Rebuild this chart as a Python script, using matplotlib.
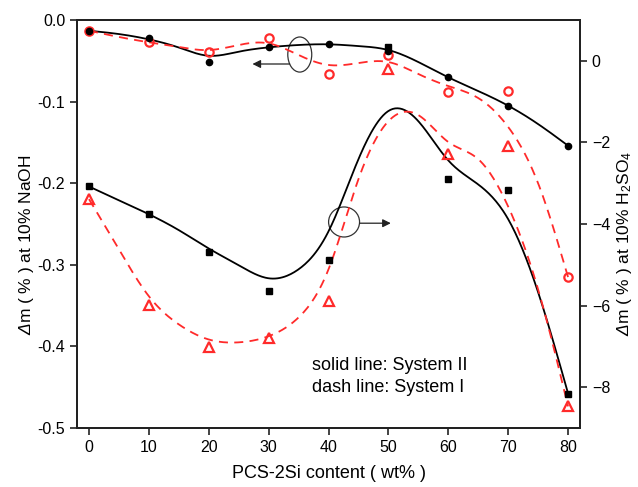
import numpy as np
import matplotlib
matplotlib.use("Agg")
import matplotlib.pyplot as plt
from matplotlib.patches import Ellipse

plt.rcParams['font.family'] = ['Liberation Sans', 'DejaVu Sans']
plt.rcParams['mathtext.fontset'] = 'custom'
plt.rcParams['mathtext.rm'] = 'Liberation Sans'
plt.rcParams['mathtext.it'] = 'Liberation Sans:italic'
plt.rcParams['mathtext.sf'] = 'Liberation Sans:italic'

# ---- data ----
content = [0, 10, 20, 30, 40, 50, 60, 70, 80]

# NaOH (left axis)
naoh_sys2 = [-0.013, -0.022, -0.051, -0.033, -0.029, -0.038, -0.070, -0.105, -0.154]
naoh_sys1 = [-0.013, -0.027, -0.039, -0.022, -0.066, -0.043, -0.088, -0.087, -0.315]
# H2SO4 (right axis)
h2so4_sys2 = [-3.08, -3.76, -4.68, -5.63, -4.88, 0.34, -2.90, -3.17, -8.16]
h2so4_sys1 = [-3.39, -5.99, -7.02, -6.80, -5.89, -0.20, -2.29, -2.10, -8.47]

# fitted curves
fit_x = [0, 5, 10, 15, 20, 25, 30, 35, 40, 45, 50, 55, 60, 65, 70, 75, 80]
fit_naoh_sys2 = [-0.0131, -0.0172, -0.0237, -0.0337, -0.0438, -0.0388, -0.0335, -0.0306,
                 -0.0298, -0.0319, -0.0368, -0.0515, -0.0702, -0.0870, -0.105, -0.1275, -0.154]
fit_naoh_sys1 = [-0.0131, -0.0208, -0.0273, -0.0331, -0.0368, -0.0306, -0.0286, -0.0429,
                 -0.0551, -0.0527, -0.0515, -0.0662, -0.0809, -0.0956, -0.131, -0.200, -0.315]
fit_h2so4_sys2 = [-3.08, -3.42, -3.76, -4.15, -4.60, -5.01, -5.33, -5.11, -4.18, -2.41,
                  -1.23, -1.48, -2.44, -3.03, -3.88, -5.67, -8.15]
fit_h2so4_sys1 = [-3.39, -4.62, -5.77, -6.46, -6.83, -6.90, -6.75, -6.29, -5.11, -2.90,
                  -1.48, -1.33, -1.99, -2.41, -3.57, -5.60, -8.47]

xticks = [0, 10, 20, 30, 40, 50, 60, 70, 80]
left_ticks = [0.0, -0.1, -0.2, -0.3, -0.4, -0.5]
right_ticks = [0, -2, -4, -6, -8]


def spline(xk, yk, n=400):
    xk = np.asarray(xk, float)
    yk = np.asarray(yk, float)
    m = len(xk)
    h = np.diff(xk)
    A = np.zeros((m, m))
    b = np.zeros(m)
    A[0, 0] = 1
    A[-1, -1] = 1
    for i in range(1, m - 1):
        A[i, i - 1] = h[i - 1]
        A[i, i] = 2 * (h[i - 1] + h[i])
        A[i, i + 1] = h[i]
        b[i] = 6 * ((yk[i + 1] - yk[i]) / h[i] - (yk[i] - yk[i - 1]) / h[i - 1])
    M = np.linalg.solve(A, b)
    xs = np.linspace(xk[0], xk[-1], n)
    idx = np.clip(np.searchsorted(xk, xs) - 1, 0, m - 2)
    x0, x1 = xk[idx], xk[idx + 1]
    hh = x1 - x0
    a = (x1 - xs) / hh
    c = (xs - x0) / hh
    ys = (a * yk[idx] + c * yk[idx + 1]
          + ((a ** 3 - a) * M[idx] + (c ** 3 - c) * M[idx + 1]) * hh ** 2 / 6)
    return xs, ys


fig = plt.figure(figsize=(6.38, 4.87), dpi=100)
ax = fig.add_axes([0.1207, 0.1211, 0.7884, 0.8378])
ax2 = ax.twinx()

red = '#ff2a2a'
dash = (0, (5, 3.5))

# NaOH
xs, ys = spline(fit_x, fit_naoh_sys2)
ax.plot(xs, ys, color='black', lw=1.3)
xs, ys = spline(fit_x, fit_naoh_sys1)
ax.plot(xs, ys, color=red, lw=1.3, linestyle=dash)
ax.plot(content, naoh_sys1, linestyle='none', marker='o', ms=6, mfc='none',
        mec=red, mew=1.6)
ax.plot(content, naoh_sys2, linestyle='none', marker='o', ms=4.5, color='black')

# H2SO4
xs, ys = spline(fit_x, fit_h2so4_sys2)
ax2.plot(xs, ys, color='black', lw=1.3)
xs, ys = spline(fit_x, fit_h2so4_sys1)
ax2.plot(xs, ys, color=red, lw=1.3, linestyle=dash)
ax2.plot(content, h2so4_sys1, linestyle='none', marker='^', ms=7.5, mfc='none',
         mec=red, mew=1.6)
ax2.plot(content, h2so4_sys2, linestyle='none', marker='s', ms=4, color='black')

ax.set_xlim(-2, 82)
ax.set_ylim(-0.5, 0.0)
ax2.set_ylim(-9, 1)
ax.set_xticks(xticks)
ax.set_yticks(left_ticks)
ax.set_yticklabels(['%.1f' % v for v in left_ticks])
ax2.set_yticks(right_ticks)

for a in (ax, ax2):
    a.tick_params(direction='out', length=5, width=1.2, labelsize=11.5, color='#222222')
    for s in a.spines.values():
        s.set_linewidth(1.4)
        s.set_color('#222222')
ax.tick_params(top=False)

ax.set_xlabel('PCS-2Si content ( wt% )', fontsize=13, labelpad=7)
fig.text(27 / 638, 1 - 245 / 487, r'$\mathsf{Δ}$m ( % ) at 10% NaOH',
         rotation=90, ha='center', va='center', fontsize=12.5)
fig.text(624 / 638, 1 - 243 / 487, r'$\mathsf{Δ}$m ( % ) at 10% H$_2$SO$_4$',
         rotation=90, ha='center', va='center', fontsize=12.5)

# annotations
ax.add_patch(Ellipse((35.2, -0.0423), 4.0, 0.043, fill=False, ec='#333333', lw=0.9))
ax.annotate('', xy=(27.3, -0.0539), xytext=(33.5, -0.0539),
            arrowprops=dict(arrowstyle='-|>', color='#222222', lw=0.9,
                            mutation_scale=12, shrinkA=0, shrinkB=0))
ax.add_patch(Ellipse((42.6, -0.2475), 5.17, 0.0368, fill=False, ec='#333333', lw=0.9))
ax.annotate('', xy=(50.4, -0.249), xytext=(45.2, -0.249),
            arrowprops=dict(arrowstyle='-|>', color='#222222', lw=0.9,
                            mutation_scale=12, shrinkA=0, shrinkB=0))

ax.text(37.3, -0.423, 'solid line: System II', fontsize=13, va='center', ha='left')
ax.text(37.3, -0.450, 'dash line: System I', fontsize=13, va='center', ha='left')

fig.savefig('out.png', dpi=100)
